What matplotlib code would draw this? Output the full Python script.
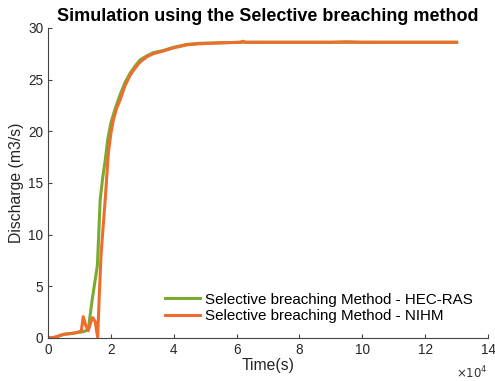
import numpy as np
import matplotlib
matplotlib.use('Agg')
import matplotlib.pyplot as plt

plt.rcParams['font.family'] = ['Liberation Sans', 'DejaVu Sans']

# time in units of 1e4 s, discharge in m3/s
t_hec = [0, 0.2, 0.5, 0.8, 1.0, 1.12, 1.28, 1.4, 1.57, 1.62, 1.66, 1.74, 1.82, 1.9, 2.0,
         2.15, 2.29, 2.45, 2.61, 2.77, 2.93, 3.15, 3.35, 3.66, 3.98, 4.42, 4.8, 5.5, 6.2,
         7.0, 8.0, 9.0, 10.0, 11.0, 12.0, 13.0]
q_hec = [0, 0.05, 0.35, 0.45, 0.55, 0.6, 0.8, 3.6, 7.0, 10.5, 13.4, 15.5, 17.2, 19.2, 20.8,
         22.3, 23.5, 24.7, 25.6, 26.3, 26.9, 27.3, 27.6, 27.8, 28.1, 28.4, 28.5, 28.55, 28.6,
         28.6, 28.6, 28.6, 28.6, 28.6, 28.6, 28.6]

t_nihm = [0, 0.2, 0.5, 0.8, 1.0, 1.06, 1.12, 1.2, 1.28, 1.36, 1.42, 1.5, 1.55, 1.58, 1.63,
          1.69, 1.76, 1.82, 1.92, 2.0, 2.08, 2.18, 2.29, 2.45, 2.61, 2.77, 2.93, 3.15, 3.35,
          3.66, 3.98, 4.42, 4.8, 5.5, 6.1, 6.2, 6.3, 7.0, 8.0, 9.0, 9.5, 10.0, 11.0, 12.0, 13.0]
q_nihm = [0, 0.05, 0.35, 0.45, 0.6, 0.7, 2.06, 1.2, 0.7, 1.5, 1.97, 1.6, 0.6, 0.1, 4.0,
          8.2, 11.0, 13.4, 17.9, 19.8, 21.1, 22.2, 23.0, 24.4, 25.4, 26.1, 26.7, 27.2, 27.5,
          27.75, 28.05, 28.35, 28.45, 28.55, 28.6, 28.7, 28.6, 28.6, 28.6, 28.6, 28.65, 28.6, 28.6, 28.6, 28.6]

fig = plt.figure(figsize=(4.95, 3.81), dpi=100)
ax = fig.add_axes([0.097, 0.113, 0.889, 0.814])

ax.plot(np.array(t_hec) * 1e4, q_hec, color='#77AC30', lw=2.2,
        label='Selective breaching Method - HEC-RAS')
ax.plot(np.array(t_nihm) * 1e4, q_nihm, color='#EE6C2C', lw=2.2,
        label='Selective breaching Method - NIHM')

ax.set_xlim(0, 14e4)
ax.set_ylim(0, 30)
ax.set_xticks(np.arange(0, 15e4, 2e4))
ax.set_xticklabels([str(v) for v in range(0, 15, 2)])
ax.set_yticks(range(0, 31, 5))
ax.text(1.0, -0.085, r'$\times10^4$', transform=ax.transAxes, ha='right', va='top',
        fontsize=8.5, color='#333333')

for s in ['top', 'right']:
    ax.spines[s].set_visible(False)
for s in ['left', 'bottom']:
    ax.spines[s].set_color('#444444')
ax.tick_params(direction='in', length=3, labelsize=9.8, colors='#444444', labelcolor='#262626')

ax.set_xlabel('Time(s)', fontsize=11.3, color='#262626', labelpad=1)
ax.set_ylabel('Discharge (m3/s)', fontsize=11.3, color='#262626', labelpad=3)
ax.set_title('Simulation using the Selective breaching method', fontsize=13,
             fontweight='bold', pad=5)

ax.legend(loc='lower right', frameon=False, fontsize=10.9, handlelength=2.3,
          handletextpad=0.35, labelspacing=0.15, borderaxespad=0.6)

fig.savefig('out.png', dpi=100)
